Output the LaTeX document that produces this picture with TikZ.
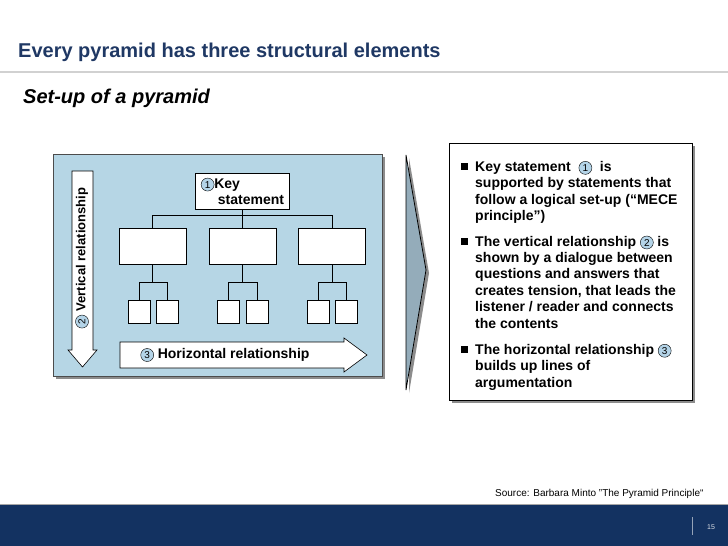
\documentclass[tikz,border=0pt]{standalone}
\usepackage{fontspec}
\setmainfont{Liberation Sans}
\usetikzlibrary{positioning,shadows,calc}
\definecolor{titleblue}{RGB}{31,56,100}
\definecolor{panelblue}{RGB}{182,214,229}
\definecolor{chevgray}{RGB}{148,172,186}
\definecolor{footblue}{RGB}{19,50,97}
\definecolor{circblue}{RGB}{180,212,232}
\newcommand{\numc}[1]{\tikz[baseline=(numc.base)]\node[circle,draw,fill=circblue,inner sep=0pt,minimum size=13pt,font=\fontsize{10}{10}\selectfont\mdseries](numc){#1};}

\begin{document}
\begin{tikzpicture}[
    x=1pt, y=-1pt,
    box/.style={draw, fill=white, line width=0.8pt},
    midbox/.style={box, minimum width=67pt, minimum height=36pt, inner sep=0pt},
    leaf/.style={box, minimum width=22pt, minimum height=23pt, inner sep=0pt},
    link/.style={line width=0.8pt},
    bodytext/.style={font=\fontsize{14}{16.4}\selectfont\bfseries, align=left, anchor=base west, inner sep=0pt},
    bullet/.style={fill=black, minimum size=7pt, inner sep=0pt},
    castshadow/.style={drop shadow={shadow xshift=3pt, shadow yshift=-3pt, fill=black!45, opacity=1}},
]
\useasboundingbox (0,0) rectangle (728,546);

% Heading
\node[anchor=base west, inner sep=0pt, text=titleblue, font=\fontsize{20}{24}\selectfont\bfseries] (title) at (18,57) {Every pyramid has three structural elements};
\draw[line width=2pt, black!18] (0,72) -- (728,72);
\node[anchor=base west, inner sep=0pt, font=\fontsize{20}{24}\selectfont\bfseries\itshape] (sub) at (23,103) {Set-up of a pyramid};

% Pyramid panel
\node[draw=black!70, fill=panelblue, castshadow, minimum width=329pt, minimum height=222pt, inner sep=0pt] (panel) at (217.5,265) {};

% Vertical arrow
\draw[fill=white, line width=0.6pt] (72,171) -- (93,171) -- (93,350) -- (97,350) -- (82.5,367) -- (68,350) -- (72,350) -- cycle;
\node[rotate=90, font=\fontsize{13}{15}\selectfont\bfseries] (vtext) at (82,258) {\numc{2} Vertical relationship};

% Horizontal arrow
\draw[fill=white, line width=0.6pt] (120,342) -- (344,342) -- (344,338) -- (367,355) -- (344,372) -- (344,368) -- (120,368) -- cycle;
\node[font=\fontsize{14}{16}\selectfont\bfseries] (htext) at (225,355) {\numc{3} Horizontal relationship};

% Tree
\node[box, minimum width=94pt, minimum height=36pt, inner sep=2pt, align=left, font=\fontsize{14}{16}\selectfont\bfseries] (key) at (242.5,191) {\numc{1}Key\\\hspace*{17pt}statement};
\node[midbox] (m1) at (152.5,246) {};
\node[midbox] (m2) at (242.5,246) {};
\node[midbox] (m3) at (332,246) {};

\node[leaf] (s11) at (139,311.5) {};
\node[leaf] (s12) at (167,311.5) {};
\node[leaf] (s21) at (228.5,311.5) {};
\node[leaf] (s22) at (257,311.5) {};
\node[leaf] (s31) at (318.5,311.5) {};
\node[leaf] (s32) at (346.5,311.5) {};

\draw[link] (key.south) -- (m2.north);
\draw[link] (m1.north) -- ++(0,-12) -| (m3.north);
\foreach \m in {1,2,3}{
    \draw[link] (m\m.south) -- ++(0,19);
    \draw[link] (s\m1.north) -- ++(0,-17) -| (s\m2.north);
}

% Chevron
\draw[fill=chevgray, castshadow, line width=0.8pt] (406,155) -- (426,270) -- (406,390) -- cycle;

% Notes box
\node[draw, fill=white, castshadow, line width=0.6pt, minimum width=243pt, minimum height=257pt, inner sep=0pt] (notes) at (570.5,271.5) {};

% (multi-line nodes sit on their last baseline)
\node[bullet] (b1) at (464.5,166.5) {};
\node[bodytext] (t1) at (475,220.5) {Key statement \ \numc{1}\ \ is\\supported by statements that\\follow a logical set-up (“MECE\\principle”)};
\node[bullet] (b2) at (464.5,241.5) {};
\node[bodytext] (t2) at (475,328) {The vertical relationship \numc{2} is\\shown by a dialogue between\\questions and answers that\\creates tension, that leads the\\listener / reader and connects\\the contents};
\node[bullet] (b3) at (464.5,349.5) {};
\node[bodytext] (t3) at (475,387) {The horizontal relationship \numc{3}\\builds up lines of\\argumentation};

% Source and footer
\node[anchor=base west, inner sep=0pt, font=\fontsize{10}{12}\selectfont] (src) at (495,496) {Source: Barbara Minto "The Pyramid Principle“};
\fill[footblue] (0,504) rectangle (728,546);
\draw[black!35, line width=0.8pt] (0,504) -- (728,504);
\draw[line width=1pt, white!55!footblue] (692,517) -- (692,535);
\node[text=white!85!footblue, font=\fontsize{7}{8}\selectfont] (pg) at (711,527) {15};

\end{tikzpicture}
\end{document}
